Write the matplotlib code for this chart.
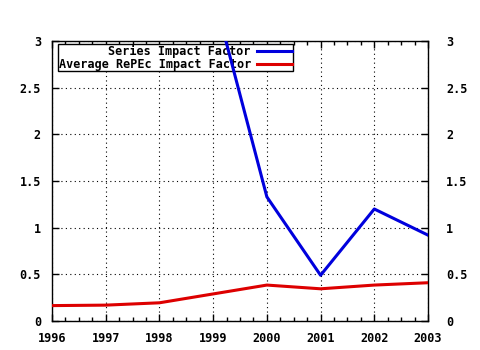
import matplotlib.pyplot as plt
from matplotlib.ticker import MultipleLocator
from matplotlib.transforms import ScaledTranslation

# Data
years_series = [1999, 2000, 2001, 2002, 2003]
series_if = [3.52, 1.33, 0.49, 1.20, 0.92]

years_avg = [1996, 1997, 1998, 1999, 2000, 2001, 2002, 2003]
avg_if = [0.165, 0.17, 0.195, 0.29, 0.385, 0.345, 0.385, 0.41]

x_ticks = [1996, 1997, 1998, 1999, 2000, 2001, 2002, 2003]
y_ticks = [0, 0.5, 1, 1.5, 2, 2.5, 3]
y_ticklabels = ["0", "0.5", "1", "1.5", "2", "2.5", "3"]

plt.rcParams['font.family'] = 'DejaVu Sans Mono'
plt.rcParams['font.weight'] = 'bold'
plt.rcParams['font.size'] = 8.5

fig = plt.figure(figsize=(4.8, 3.5), dpi=100)
ax = fig.add_axes([52 / 480, 29 / 350, 376 / 480, 280 / 350])

ax.plot(years_series, series_if, color='#0000dd', linewidth=2.2,
        label="Series Impact Factor", zorder=4)
ax.plot(years_avg, avg_if, color='#dd0000', linewidth=2.2,
        label="Average RePEc Impact Factor", zorder=4)

ax.set_xlim(1996, 2003)
ax.set_ylim(0, 3)
ax.set_xticks(x_ticks)
ax.set_xticklabels([str(y) for y in x_ticks])
ax.set_yticks(y_ticks)
ax.set_yticklabels(y_ticklabels)
ax.xaxis.set_minor_locator(MultipleLocator(0.25))

ax.tick_params(which='both', direction='in', top=True, right=True,
               labelright=True, color='black', width=1)
ax.tick_params(which='major', length=5)
ax.tick_params(which='minor', length=3)
ax.tick_params(axis='x', pad=8)
ax.tick_params(axis='y', pad=8)
for lbl in ax.get_xticklabels() + ax.get_yticklabels():
    lbl.set_fontweight('bold')

# right-hand labels sit a little further out, as in the original
shift = ScaledTranslation(5 / 72, 0, fig.dpi_scale_trans)
for t in ax.yaxis.get_major_ticks():
    t.label2.set_transform(t.label2.get_transform() + shift)
    t.label2.set_fontweight('bold')

ax.grid(True, which='major', color='black', linestyle=(0, (1, 3)),
        linewidth=0.8)
for s in ax.spines.values():
    s.set_linewidth(1)
    s.set_color('black')

leg = ax.legend(loc='upper left', bbox_to_anchor=(6 / 376, 1 - 3 / 280),
                borderaxespad=0, markerfirst=False, fancybox=False,
                framealpha=1, edgecolor='black', handlelength=3,
                handletextpad=0.5, labelspacing=0.0, borderpad=0.05,
                prop={'family': 'DejaVu Sans Mono', 'weight': 'bold', 'size': 8.5})
leg.get_frame().set_linewidth(1)
leg.set_zorder(3)

fig.savefig("out.png", dpi=100)
